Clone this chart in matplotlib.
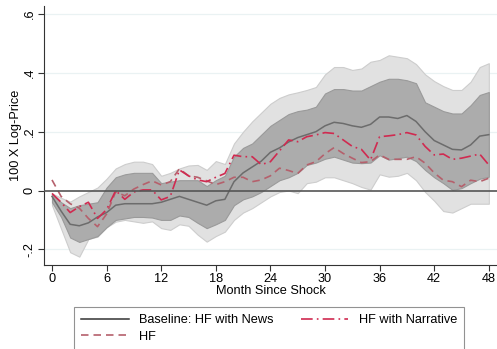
import numpy as np
import matplotlib
matplotlib.use("Agg")
import matplotlib.pyplot as plt
from matplotlib.lines import Line2D

plt.rcParams['font.family'] = ['Liberation Sans', 'DejaVu Sans']

months = np.arange(0, 49)

# baseline impulse response (HF with news) and its confidence bands
baseline = [-0.02, -0.07, -0.115, -0.12, -0.11, -0.09, -0.075, -0.05, -0.045, -0.045,
            -0.045, -0.045, -0.04, -0.03, -0.02, -0.03, -0.04, -0.05, -0.035, -0.03,
            0.03, 0.06, 0.08, 0.10, 0.13, 0.145, 0.165, 0.18, 0.19, 0.20,
            0.22, 0.232, 0.228, 0.22, 0.215, 0.225, 0.25, 0.25, 0.245, 0.255,
            0.235, 0.20, 0.17, 0.155, 0.14, 0.138, 0.155, 0.185, 0.19]
inner_hi = [-0.015, -0.04, -0.06, -0.05, -0.045, -0.04, 0.01, 0.045, 0.055, 0.06,
            0.06, 0.06, 0.025, 0.03, 0.035, 0.035, 0.035, 0.015, 0.035, 0.05,
            0.115, 0.145, 0.16, 0.19, 0.22, 0.24, 0.26, 0.27, 0.275, 0.285,
            0.33, 0.345, 0.345, 0.34, 0.34, 0.355, 0.37, 0.38, 0.38, 0.375,
            0.365, 0.30, 0.285, 0.27, 0.262, 0.262, 0.29, 0.325, 0.335]
inner_lo = [-0.04, -0.09, -0.16, -0.175, -0.165, -0.155, -0.125, -0.10, -0.095, -0.09,
            -0.09, -0.092, -0.10, -0.10, -0.085, -0.09, -0.11, -0.128, -0.115, -0.10,
            -0.05, -0.03, -0.02, -0.005, 0.015, 0.035, 0.045, 0.06, 0.087, 0.095,
            0.108, 0.115, 0.105, 0.095, 0.093, 0.095, 0.12, 0.105, 0.11, 0.115,
            0.10, 0.07, 0.045, 0.025, 0.002, 0.008, 0.025, 0.04, 0.047]
outer_hi = [-0.01, -0.025, -0.038, -0.02, -0.005, 0.01, 0.04, 0.075, 0.09, 0.098,
            0.098, 0.09, 0.05, 0.06, 0.075, 0.085, 0.087, 0.07, 0.10, 0.09,
            0.16, 0.20, 0.235, 0.265, 0.295, 0.315, 0.327, 0.334, 0.342, 0.352,
            0.395, 0.42, 0.42, 0.41, 0.415, 0.438, 0.444, 0.46, 0.455, 0.45,
            0.43, 0.395, 0.372, 0.355, 0.342, 0.342, 0.37, 0.42, 0.433]
outer_lo = [-0.05, -0.13, -0.21, -0.225, -0.165, -0.157, -0.125, -0.106, -0.10, -0.105,
            -0.11, -0.105, -0.128, -0.134, -0.115, -0.12, -0.15, -0.174, -0.155, -0.14,
            -0.10, -0.075, -0.06, -0.04, -0.02, -0.005, 0.0, -0.009, 0.025, 0.03,
            0.045, 0.045, 0.035, 0.025, 0.012, 0.003, 0.055, 0.047, 0.05, 0.06,
            0.035, -0.005, -0.035, -0.07, -0.075, -0.06, -0.045, -0.045, -0.045]

# alternative identification schemes
narrative = [-0.01, -0.04, -0.075, -0.055, -0.04, -0.095, -0.065, 0.0, -0.03, -0.005,
             0.002, 0.002, -0.032, -0.02, 0.07, 0.05, 0.036, 0.03, 0.045, 0.058,
             0.12, 0.115, 0.115, 0.088, 0.098, 0.135, 0.172, 0.166, 0.183, 0.189,
             0.197, 0.194, 0.172, 0.15, 0.14, 0.104, 0.183, 0.186, 0.19, 0.197,
             0.189, 0.15, 0.121, 0.124, 0.106, 0.11, 0.117, 0.124, 0.087]
hf = [0.036, -0.02, -0.045, -0.06, -0.095, -0.123, -0.08, -0.004, -0.018, 0.005,
      0.02, 0.033, 0.019, 0.03, 0.074, 0.05, 0.045, 0.033, 0.02, 0.03,
      0.045, 0.045, 0.03, 0.036, 0.05, 0.076, 0.068, 0.058, 0.087, 0.098,
      0.125, 0.146, 0.126, 0.11, 0.095, 0.098, 0.121, 0.106, 0.106, 0.106,
      0.115, 0.093, 0.06, 0.035, 0.03, 0.013, 0.035, 0.03, 0.042]

fs = 9.2
fig = plt.figure(figsize=(4.97, 3.49), dpi=100)
ax = fig.add_axes([0.0885, 0.2407, 0.9115, 0.7421])

for yv in [-0.2, 0.2, 0.4, 0.6]:
    ax.axhline(yv, color='#eaf2f3', lw=0.9, zorder=0)

ax.fill_between(months, outer_lo, outer_hi, facecolor='#e1e1e1', edgecolor='#cdcdcd', lw=0.8, zorder=1)
ax.fill_between(months, inner_lo, inner_hi, facecolor='#acacac', edgecolor='#9a9a9a', lw=0.8, zorder=2)
ax.plot(months, baseline, color='#6c6c6c', lw=1.1, zorder=3)
ax.plot(months, hf, color='#b5606c', lw=1.2, dashes=(4.5, 3), zorder=4)
ax.plot(months, narrative, color='#d02a50', lw=1.2, dashes=(7, 2.5, 1, 2.5), zorder=5)
ax.axhline(0, color='#555555', lw=1.2, zorder=6)

ax.set_xlim(-0.88, 48.9)
ax.set_ylim(-0.2534, 0.6276)
ax.set_xticks(range(0, 49, 6))
ax.set_yticks([-0.2, 0, 0.2, 0.4, 0.6])
ax.set_yticklabels(['-.2', '0', '.2', '.4', '.6'], rotation=90, va='center')
ax.tick_params(labelsize=fs, length=4, width=0.8, color='#333333', pad=2)
for s in ['top', 'right']:
    ax.spines[s].set_visible(False)
for s in ['left', 'bottom']:
    ax.spines[s].set_color('#333333')
    ax.spines[s].set_linewidth(0.8)
ax.set_xlabel('Month Since Shock', fontsize=fs, labelpad=0)
ax.set_ylabel('100 X Log-Price', fontsize=fs)
ax.yaxis.set_label_coords(-0.048, 0.5)

handles = [Line2D([], [], color='#333333', lw=1.1),
           Line2D([], [], color='#b5606c', lw=1.2, dashes=(4.5, 3)),
           Line2D([], [], color='#d02a50', lw=1.2, dashes=(7, 2.5, 1, 2.5))]
labels = ['Baseline: HF with News', 'HF', 'HF with Narrative']
leg = fig.legend(handles, labels, loc='upper left', bbox_to_anchor=(0.149, 0.1203),
                 ncol=2, fontsize=fs, handlelength=3.75, handletextpad=0.8,
                 columnspacing=2.1, borderpad=0.55, labelspacing=0.35,
                 frameon=True, fancybox=False, borderaxespad=0)
leg.get_frame().set_edgecolor('#777777')
leg.get_frame().set_linewidth(0.8)

fig.savefig('out.png', dpi=100)
